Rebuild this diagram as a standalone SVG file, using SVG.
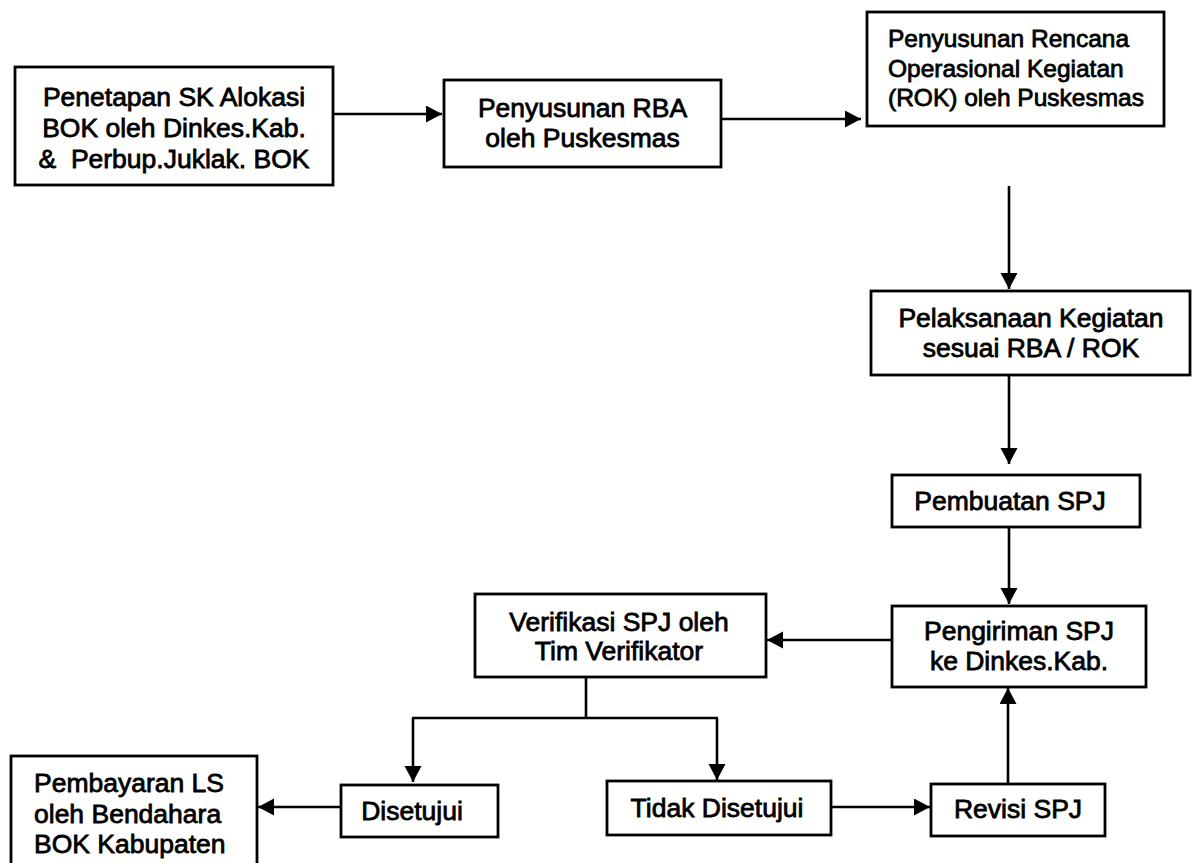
<svg xmlns="http://www.w3.org/2000/svg" width="1196" height="863" viewBox="0 0 1196 863">
<style>
.box{fill:#fff;stroke:#000;stroke-width:2.8}
.t{font-family:"Liberation Sans",Arial,sans-serif;font-size:26.5px;fill:#000;stroke:#000;stroke-width:0.8}
.s{font-size:24.5px}
.c{text-anchor:middle}
.con{fill:none;stroke:#000;stroke-width:2.6}
</style>
<defs>
<marker id="ah" markerUnits="userSpaceOnUse" markerWidth="18" markerHeight="18" refX="16" refY="8.5" orient="auto" viewBox="0 0 18 18">
<path d="M0,0 L16,8.5 L0,17 z" fill="#000"/>
</marker>
</defs>
<rect width="1196" height="863" fill="#fff"/>
<g id="connectors">
<line class="con" x1="333" y1="114" x2="442" y2="114" marker-end="url(#ah)"/>
<line class="con" x1="721" y1="119" x2="861" y2="119" marker-end="url(#ah)"/>
<line class="con" x1="1009" y1="186" x2="1009" y2="289" marker-end="url(#ah)"/>
<line class="con" x1="1009" y1="375" x2="1009" y2="464" marker-end="url(#ah)"/>
<line class="con" x1="1009" y1="527" x2="1009" y2="604" marker-end="url(#ah)"/>
<line class="con" x1="892" y1="640" x2="767" y2="640" marker-end="url(#ah)"/>
<line class="con" x1="586" y1="677" x2="586" y2="718"/>
<line class="con" x1="412" y1="718" x2="718" y2="718"/>
<line class="con" x1="413" y1="718" x2="413" y2="782" marker-end="url(#ah)"/>
<line class="con" x1="717" y1="718" x2="717" y2="780" marker-end="url(#ah)"/>
<line class="con" x1="341" y1="807" x2="258" y2="807" marker-end="url(#ah)"/>
<line class="con" x1="831" y1="807" x2="930" y2="807" marker-end="url(#ah)"/>
<line class="con" x1="1008" y1="784" x2="1008" y2="688" marker-end="url(#ah)"/>
</g>
<g id="n1">
<rect class="box" x="15" y="67" width="318" height="118"/>
<text class="t c" x="174" y="106">Penetapan SK Alokasi</text>
<text class="t c" x="174" y="137">BOK oleh Dinkes.Kab.</text>
<text class="t c" x="174" y="168" style="white-space:pre">&amp;  Perbup.Juklak. BOK</text>
</g>
<g id="n2">
<rect class="box" x="444" y="80" width="277" height="87"/>
<text class="t c" x="582.5" y="117">Penyusunan RBA</text>
<text class="t c" x="582.5" y="147">oleh Puskesmas</text>
</g>
<g id="n3">
<rect class="box" x="867" y="12" width="297" height="114"/>
<text class="t s" x="888" y="47">Penyusunan Rencana</text>
<text class="t s" x="888" y="77">Operasional Kegiatan</text>
<text class="t s" x="888" y="106">(ROK) oleh Puskesmas</text>
</g>
<g id="n4">
<rect class="box" x="871" y="291" width="319" height="84"/>
<text class="t c" x="1031" y="327">Pelaksanaan Kegiatan</text>
<text class="t c" x="1031" y="357">sesuai RBA / ROK</text>
</g>
<g id="n5">
<rect class="box" x="892" y="475" width="248" height="52"/>
<text class="t c" x="1010" y="510">Pembuatan SPJ</text>
</g>
<g id="n6">
<rect class="box" x="892" y="606" width="254" height="81"/>
<text class="t c" x="1019" y="640">Pengiriman SPJ</text>
<text class="t c" x="1019" y="670">ke Dinkes.Kab.</text>
</g>
<g id="n7">
<rect class="box" x="475" y="594" width="291" height="83"/>
<text class="t c" x="619" y="631">Verifikasi SPJ oleh</text>
<text class="t c" x="619" y="660">Tim Verifikator</text>
</g>
<g id="n8">
<rect class="box" x="341" y="785" width="157" height="52"/>
<text class="t c" x="412" y="820">Disetujui</text>
</g>
<g id="n9">
<rect class="box" x="607" y="781" width="224" height="54"/>
<text class="t c" x="717" y="817">Tidak Disetujui</text>
</g>
<g id="n10">
<rect class="box" x="931" y="784" width="174" height="52"/>
<text class="t c" x="1018" y="818">Revisi SPJ</text>
</g>
<g id="n11">
<rect class="box" x="11" y="756" width="246" height="130"/>
<text class="t" x="34" y="792">Pembayaran LS</text>
<text class="t" x="34" y="823">oleh Bendahara</text>
<text class="t" x="34" y="853">BOK Kabupaten</text>
</g>
</svg>
